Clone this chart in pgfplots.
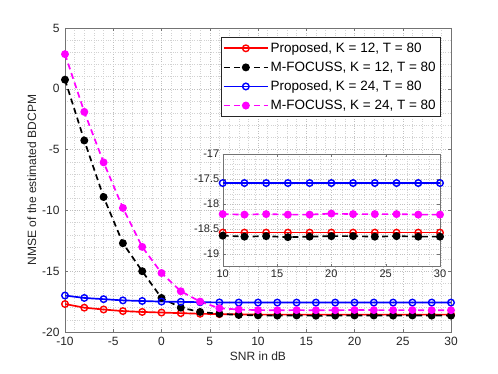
\documentclass[border=0pt]{standalone}
\usepackage{pgfplots}
\pgfplotsset{compat=1.18}
\usepackage{fontspec}
\setmainfont{Liberation Sans}

\definecolor{axgray}{rgb}{0.45,0.45,0.45}
\definecolor{txtgray}{rgb}{0.15,0.15,0.15}
\definecolor{mag}{rgb}{1,0,1}
\definecolor{pred}{rgb}{1,0,0}
\definecolor{pblue}{rgb}{0,0,1}

% main curves, SNR -10:2:30
\pgfplotstableread{
x    prop12  mf12    prop24  mf24
-10  -17.70  0.75    -17.00  2.85
-8   -18.00  -4.25   -17.20  -1.90
-6   -18.15  -8.90   -17.30  -6.05
-4   -18.28  -12.70  -17.40  -9.80
-2   -18.35  -15.00  -17.45  -13.00
0    -18.40  -17.20  -17.50  -15.15
2    -18.45  -18.00  -17.52  -16.65
4    -18.50  -18.35  -17.55  -17.50
6    -18.53  -18.50  -17.57  -18.05
8    -18.55  -18.60  -17.58  -18.15
10   -18.57  -18.63  -17.58  -18.20
12   -18.57  -18.65  -17.58  -18.21
14   -18.57  -18.64  -17.58  -18.20
16   -18.57  -18.66  -17.58  -18.21
18   -18.57  -18.65  -17.58  -18.21
20   -18.57  -18.64  -17.58  -18.19
22   -18.57  -18.64  -17.58  -18.20
24   -18.57  -18.65  -17.58  -18.20
26   -18.57  -18.64  -17.58  -18.20
28   -18.57  -18.65  -17.58  -18.21
30   -18.57  -18.65  -17.58  -18.21
}\maindata

\pgfplotsset{
  matlab/.style={
    scale only axis,
    axis line style={axgray},
    tick style={axgray},
    ticklabel style={text=txtgray},
    label style={text=txtgray},
    grid=both,
    major grid style={dotted, gray!50},
    minor grid style={dotted, gray!35},
    minor tick num=4,
    tick align=inside,
    major tick length=3pt,
    minor tick length=0pt,
    /pgf/number format/assume math mode=true,
    /pgf/number format/fixed,
  },
  prop/.style={line width=1.7pt, mark=o, mark size=3.3pt, mark options={solid, line width=1.4pt}},
  mfoc/.style={line width=1.7pt, dash pattern=on 6pt off 4pt, mark=*, mark size=3.1pt, mark options={solid}},
}

\begin{document}
\begin{tikzpicture}
\useasboundingbox (0,0) rectangle (498bp,374bp);
\begin{axis}[
  matlab,
  at={(65bp,42bp)}, anchor=south west,
  width=386bp, height=304bp,
  xmin=-10, xmax=30, ymin=-20, ymax=5,
  xtick={-10,-5,...,30},
  ytick={-20,-15,...,5},
  ticklabel style={font=\fontsize{12bp}{14bp}\selectfont},
  xticklabel style={yshift=-2bp},
  yticklabel style={xshift=-2bp},
  xlabel={SNR in dB},
  ylabel={NMSE of the estimated BDCPM},
  label style={font=\fontsize{12bp}{14bp}\selectfont},
  xlabel style={yshift=1bp},
  ylabel style={yshift=-1bp},
  legend style={at={(0.9715,0.969)}, anchor=north east,
    font=\fontsize{13.5bp}{15bp}\selectfont, draw=txtgray, line width=0.5pt,
    inner xsep=2bp, inner ysep=3bp, row sep=4bp, text=black},
  legend cell align=left,
  legend image code/.code={\draw[mark repeat=2, mark phase=2]
    plot coordinates {(0bp,0bp) (22bp,0bp) (44bp,0bp)};},
]
\addplot[pred, prop] table[x=x, y=prop12] {\maindata};
\addlegendentry{Proposed, K = 12, T = 80}
\addplot[black, mfoc] table[x=x, y=mf12] {\maindata};
\addlegendentry{M-FOCUSS, K = 12, T = 80}
\addplot[pblue, prop] table[x=x, y=prop24] {\maindata};
\addlegendentry{Proposed, K = 24, T = 80}
\addplot[mag, mfoc] table[x=x, y=mf24] {\maindata};
\addlegendentry{M-FOCUSS, K = 24, T = 80}
\end{axis}

\begin{axis}[
  matlab,
  at={(222.7bp,107.3bp)}, anchor=south west,
  width=217.3bp, height=112.7bp,
  axis background/.style={fill=white},
  xmin=10, xmax=30, ymin=-19.25, ymax=-17,
  xtick={10,15,...,30},
  ytick={-19,-18.5,...,-17},
  ticklabel style={font=\fontsize{11bp}{13bp}\selectfont},
  restrict x to domain=10:30,
]
\addplot[pred, prop] table[x=x, y=prop12] {\maindata};
\addplot[black, mfoc] table[x=x, y=mf12] {\maindata};
\addplot[pblue, prop] table[x=x, y=prop24] {\maindata};
\addplot[mag, mfoc] table[x=x, y=mf24] {\maindata};
\end{axis}
\end{tikzpicture}
\end{document}
